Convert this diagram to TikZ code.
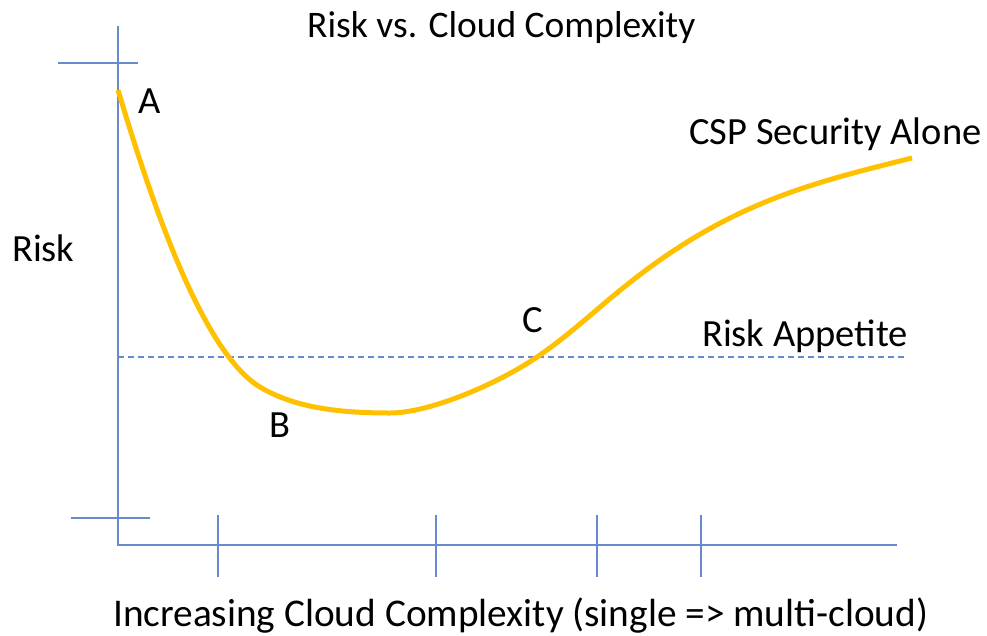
\documentclass[tikz,border=0pt]{standalone}
\usepackage{fontspec}
\setmainfont{Carlito}
\usepackage{tikz}
\definecolor{axisblue}{RGB}{104,138,205}
\definecolor{riskgold}{RGB}{255,192,0}

\begin{document}
\begin{tikzpicture}[x=1pt,y=-1pt, every node/.style={inner sep=0pt,font=\fontsize{38.5}{44}\selectfont}]
	\useasboundingbox (0,0) rectangle (987,635);
	\coordinate (ytop) at (118,26);
	\coordinate (org) at (118,545);
	\coordinate (xend) at (897,545);
	\coordinate (hi1) at (58,63);
	\coordinate (hi2) at (138,63);
	\coordinate (lo1) at (71,518);
	\coordinate (lo2) at (150,518);
	\coordinate (app1) at (118,357);
	\coordinate (app2) at (907,357);
	\coordinate (t1a) at (218,515);
	\coordinate (t1b) at (218,577);
	\coordinate (t2a) at (436,515);
	\coordinate (t2b) at (436,577);
	\coordinate (t3a) at (597,515);
	\coordinate (t3b) at (597,577);
	\coordinate (t4a) at (701,515);
	\coordinate (t4b) at (701,577);
	\coordinate (c0) at (118,90);
	\coordinate (c1) at (260,387);
	\coordinate (c2) at (390,413);
	\coordinate (c3) at (540,355);
	\coordinate (c4) at (633,280);
	\coordinate (c5) at (912,158);

	\draw[color=axisblue,line width=2pt] (ytop) to[] (org) to[] (xend);
	\draw[color=axisblue,line width=2pt] (hi1) to[] (hi2);
	\draw[color=axisblue,line width=2pt] (lo1) to[] (lo2);
	\draw[color=axisblue,line width=2pt] (t1a) to[] (t1b);
	\draw[color=axisblue,line width=2pt] (t2a) to[] (t2b);
	\draw[color=axisblue,line width=2pt] (t3a) to[] (t3b);
	\draw[color=axisblue,line width=2pt] (t4a) to[] (t4b);
	\draw[color=axisblue,line width=1.5pt,dash pattern=on 6pt off 4pt] (app1) to[] (app2);

	\draw[color=riskgold,line width=5pt] (c0) .. controls (148,190) and (200,351) .. (c1)
		.. controls (295,408) and (340,413) .. (c2)
		.. controls (430,413) and (500,383) .. (c3)
		.. controls (575,330.5) and (598,307.3) .. (c4)
		.. controls (733,202) and (812,183) .. (c5);

	\node (title) at (307,37) [anchor=base west,font=\fontsize{37.5}{44}\selectfont] {Risk vs. Cloud Complexity};
	\node (ylabel) at (12,261) [anchor=base west] {Risk};
	\node (xlabel) at (113,626) [anchor=base west,font=\fontsize{39.3}{44}\selectfont] {Increasing Cloud Complexity (single => multi-cloud)};
	\node (csp) at (689,144) [anchor=base west] {CSP Security Alone};
	\node (appetite) at (702,346) [anchor=base west] {Risk Appetite};
	\node (ptA) at (150,101) {A};
	\node (ptB) at (280,425) {B};
	\node (ptC) at (533,320) {C};
\end{tikzpicture}
\end{document}
